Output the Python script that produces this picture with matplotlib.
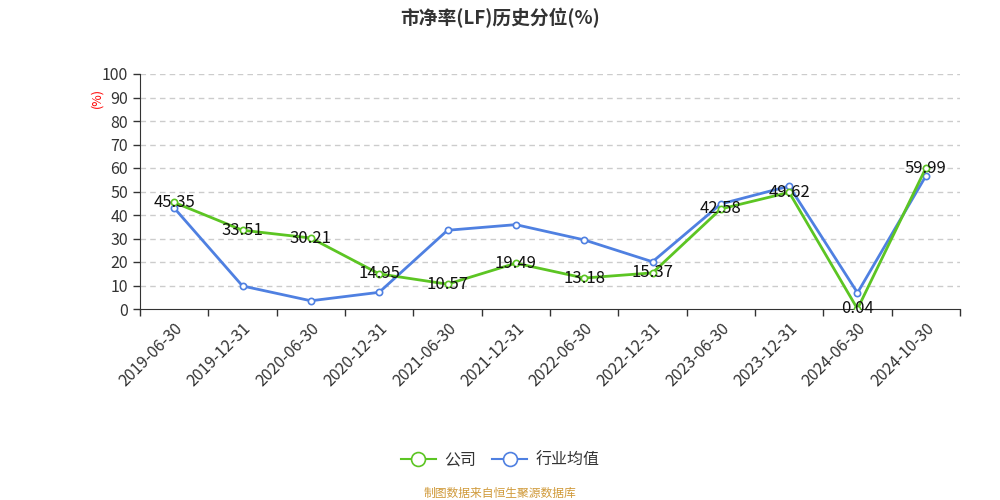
import numpy as np
import matplotlib
matplotlib.use("Agg")
import matplotlib.pyplot as plt
from matplotlib.lines import Line2D

plt.rcParams['font.family'] = ['Noto Sans CJK SC', 'DejaVu Sans']

dates = ['2019-06-30', '2019-12-31', '2020-06-30', '2020-12-31', '2021-06-30', '2021-12-31',
         '2022-06-30', '2022-12-31', '2023-06-30', '2023-12-31', '2024-06-30', '2024-10-30']
company = [45.35, 33.51, 30.21, 14.95, 10.57, 19.49, 13.18, 15.37, 42.58, 49.62, 0.04, 59.99]
industry = [43.0, 9.8, 3.5, 7.1, 33.5, 35.9, 29.4, 20.1, 44.7, 52.3, 6.9, 56.6]

green = '#5CC523'
blue = '#4F80E1'

fig = plt.figure(figsize=(10, 5), dpi=100)
ax = fig.add_axes([0.14, 0.382, 0.82, 0.47])

x = np.arange(len(dates))
ax.plot(x, industry, color=blue, lw=2, marker='o', ms=4.5, mfc='white', mec=blue, mew=1.2, zorder=3)
ax.plot(x, company, color=green, lw=2, marker='o', ms=4.5, mfc='white', mec=green, mew=1.2, zorder=4)

# data labels for the company line
for xi, v in zip(x, company):
    ax.text(xi, v, f'{v:.2f}', ha='center', va='center', fontsize=12, color='#111111', zorder=5)

ax.set_xlim(-0.5, len(dates) - 0.5)
ax.set_ylim(0, 100)
ax.set_yticks(range(0, 101, 10))
ax.tick_params(axis='y', labelsize=11.5, colors='#333333', length=5, width=1)
ax.set_xticks(x)
ax.set_xticklabels(dates, rotation=45, ha='right', rotation_mode='anchor', fontsize=11.5, color='#333333')
ax.tick_params(axis='x', length=0, pad=8)
ax.set_xticks(np.arange(-0.5, len(dates), 1), minor=True)
ax.tick_params(axis='x', which='minor', length=5, width=1, color='#333333')

for yv in range(10, 101, 10):
    ax.axhline(yv, color='#CCCCCC', lw=1, ls=(0, (4, 3)), zorder=1)

for s in ['top', 'right']:
    ax.spines[s].set_visible(False)
ax.spines['left'].set_color('#333333')
ax.spines['bottom'].set_color('#333333')

fig.text(0.097, 0.805, '(%)', color='red', fontsize=9, rotation=90, ha='center', va='center')
fig.text(0.5, 0.965, '市净率(LF)历史分位(%)', fontsize=13.5, fontweight='bold', ha='center', va='center', color='#333333')

handles = [Line2D([], [], color=green, lw=1.5, marker='o', ms=10, mfc='white', mec=green, mew=1.2),
           Line2D([], [], color=blue, lw=1.5, marker='o', ms=10, mfc='white', mec=blue, mew=1.2)]
fig.legend(handles, ['公司', '行业均值'], loc='center', bbox_to_anchor=(0.5, 0.08), ncol=2,
           frameon=False, fontsize=11.5, handlelength=2.2, columnspacing=1.0, handletextpad=0.5,
           labelcolor='#333333')
fig.text(0.5, 0.014, '制图数据来自恒生聚源数据库', fontsize=8.5, color='#D09A3A', ha='center', va='center')

fig.savefig('out.png', dpi=100)
